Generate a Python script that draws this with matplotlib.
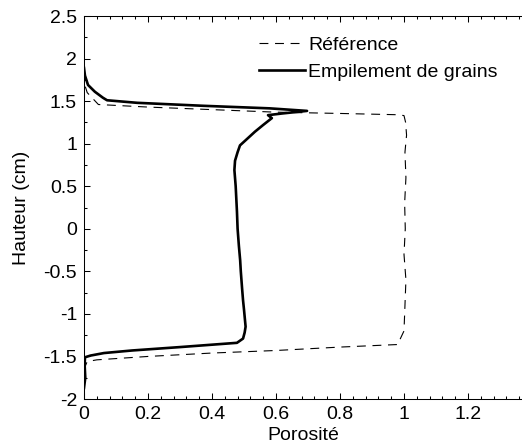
import matplotlib
matplotlib.use("Agg")
import matplotlib.pyplot as plt
from matplotlib.ticker import MultipleLocator, FormatStrFormatter

plt.rcParams['font.family'] = ['Liberation Sans', 'DejaVu Sans']

# reference profile (dashed)
ref_x = [0.0, 0.0, 0.01, 0.03, 0.045, 0.2, 0.4, 0.6, 0.8, 0.98, 1.0, 1.005,
         1.008, 1.003, 1.006, 1.002, 1.004, 1.0, 1.006, 1.003, 1.0, 0.98,
         0.8, 0.6, 0.4, 0.2, 0.04, 0.01, 0.0, 0.0]
ref_y = [1.85, 1.72, 1.6, 1.52, 1.46, 1.43, 1.40, 1.37, 1.355, 1.34, 1.33, 1.25,
         1.1, 0.9, 0.6, 0.3, 0.0, -0.3, -0.6, -0.9, -1.2, -1.36,
         -1.39, -1.43, -1.46, -1.50, -1.54, -1.56, -1.65, -1.9]

# grain packing profile (solid)
grain_x = [0.0, 0.003, 0.0125, 0.034, 0.059, 0.072, 0.166, 0.372, 0.58, 0.697,
           0.62, 0.575, 0.587, 0.56, 0.534, 0.505, 0.4875, 0.48, 0.472, 0.47,
           0.474, 0.476, 0.478, 0.48, 0.484, 0.488, 0.49, 0.494, 0.497, 0.50,
           0.503, 0.505, 0.502, 0.497, 0.478, 0.30, 0.15, 0.0625, 0.02, 0.003,
           0.002, 0.004, 0.0]
grain_y = [1.89, 1.8, 1.69, 1.61, 1.54, 1.51, 1.48, 1.445, 1.415, 1.385,
           1.355, 1.335, 1.30, 1.22, 1.14, 1.04, 0.98, 0.9, 0.8, 0.69,
           0.5, 0.35, 0.2, 0.0, -0.2, -0.37, -0.5, -0.7, -0.84, -0.95,
           -1.07, -1.15, -1.22, -1.29, -1.34, -1.39, -1.43, -1.46, -1.49, -1.51,
           -1.6, -1.75, -1.87]

fig = plt.figure(figsize=(5.22, 4.46), dpi=100)
ax = fig.add_axes([84 / 522, 47 / 446, 438 / 522, 383 / 446])

ax.plot(ref_x, ref_y, color="black", lw=0.8, ls=(0, (8, 6)), label="Référence")
ax.plot(grain_x, grain_y, color="black", lw=1.9, label="Empilement de grains")

ax.set_xlim(0, 438 / 320)
ax.set_ylim(-2, 2.5)
ax.xaxis.set_major_locator(MultipleLocator(0.2))
ax.xaxis.set_minor_locator(MultipleLocator(0.04))
ax.yaxis.set_major_locator(MultipleLocator(0.5))
ax.yaxis.set_minor_locator(MultipleLocator(0.25))
ax.xaxis.set_major_formatter(FormatStrFormatter("%g"))
ax.yaxis.set_major_formatter(FormatStrFormatter("%g"))
ax.tick_params(which="both", direction="in", top=True, right=False, labelsize=14, width=0.75)
ax.tick_params(which="major", length=4, pad=5)
ax.tick_params(which="minor", length=2)
ax.spines["right"].set_visible(False)
for s in ["left", "bottom", "top"]:
    ax.spines[s].set_linewidth(0.75)

ax.set_xlabel("Porosité", fontsize=14, labelpad=3)
ax.set_ylabel("Hauteur (cm)", fontsize=14, labelpad=10)

ax.legend(loc="upper left", bbox_to_anchor=(0.381, 0.968), frameon=False, fontsize=14,
          handlelength=2.4, handletextpad=0.15, labelspacing=0.5, borderaxespad=0)

fig.savefig("out.png", dpi=100)
